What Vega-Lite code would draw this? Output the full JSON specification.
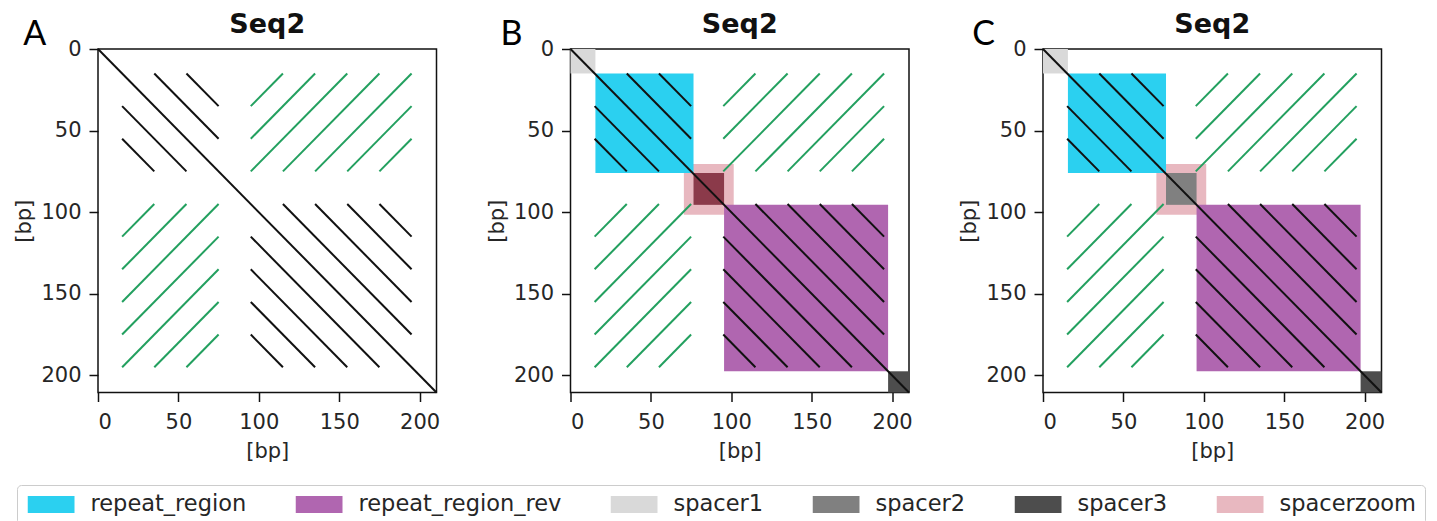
{
  "$schema": "https://vega.github.io/schema/vega-lite/v6.json",
  "background": "white",
  "padding": {"left": 13, "top": 10, "right": 7, "bottom": 0},
  "bounds": "flush",
  "spacing": 133.5,
  "datasets": {
    "segs": [
      {"s": "fwd", "x": 0, "y": 0, "x2": 210.5, "y2": 210.5},
      {"s": "fwd", "x": 35, "y": 15, "x2": 75, "y2": 55},
      {"s": "fwd", "x": 55, "y": 15, "x2": 75, "y2": 35},
      {"s": "fwd", "x": 15, "y": 35, "x2": 55, "y2": 75},
      {"s": "fwd", "x": 15, "y": 55, "x2": 35, "y2": 75},
      {"s": "fwd", "x": 115, "y": 95, "x2": 195, "y2": 175},
      {"s": "fwd", "x": 135, "y": 95, "x2": 195, "y2": 155},
      {"s": "fwd", "x": 155, "y": 95, "x2": 195, "y2": 135},
      {"s": "fwd", "x": 175, "y": 95, "x2": 195, "y2": 115},
      {"s": "fwd", "x": 95, "y": 115, "x2": 175, "y2": 195},
      {"s": "fwd", "x": 95, "y": 135, "x2": 155, "y2": 195},
      {"s": "fwd", "x": 95, "y": 155, "x2": 135, "y2": 195},
      {"s": "fwd", "x": 95, "y": 175, "x2": 115, "y2": 195},
      {"s": "rev", "x": 95, "y": 35, "x2": 115, "y2": 15},
      {"s": "rev", "x": 95, "y": 55, "x2": 135, "y2": 15},
      {"s": "rev", "x": 95, "y": 75, "x2": 155, "y2": 15},
      {"s": "rev", "x": 115, "y": 75, "x2": 175, "y2": 15},
      {"s": "rev", "x": 135, "y": 75, "x2": 195, "y2": 15},
      {"s": "rev", "x": 155, "y": 75, "x2": 195, "y2": 35},
      {"s": "rev", "x": 175, "y": 75, "x2": 195, "y2": 55},
      {"s": "rev", "x": 35, "y": 95, "x2": 15, "y2": 115},
      {"s": "rev", "x": 55, "y": 95, "x2": 15, "y2": 135},
      {"s": "rev", "x": 75, "y": 95, "x2": 15, "y2": 155},
      {"s": "rev", "x": 75, "y": 115, "x2": 15, "y2": 175},
      {"s": "rev", "x": 75, "y": 135, "x2": 15, "y2": 195},
      {"s": "rev", "x": 75, "y": 155, "x2": 35, "y2": 195},
      {"s": "rev", "x": 75, "y": 175, "x2": 55, "y2": 195}
    ],
    "regions": [
      {"region": "spacer1", "x": 0, "x2": 15.5, "y": 0, "y2": 15},
      {"region": "spacerzoom", "x": 70.5, "x2": 101.5, "y": 70.5, "y2": 101.5},
      {"region": "repeat_region", "x": 15.5, "x2": 76.5, "y": 15, "y2": 76},
      {"region": "repeat_region_rev", "x": 95.5, "x2": 197.5, "y": 95.5, "y2": 197.5},
      {"region": "spacer2", "x": 76.5, "x2": 95.5, "y": 76, "y2": 95.5},
      {"region": "spacer3", "x": 197.5, "x2": 210.5, "y": 197.5, "y2": 210.5}
    ]
  },
  "hconcat": [
    {
      "width": 338.5, "height": 343.5,
      "title": "Seq2",
      "encoding": {
        "x": {"field": "x", "type": "quantitative", "scale": {"domain": [0, 210.5], "nice": false, "zero": false}, "axis": {"values": [0, 50, 100, 150, 200], "title": "[bp]"}},
        "y": {"field": "y", "type": "quantitative", "scale": {"domain": [0, 210.5], "nice": false, "zero": false, "reverse": true}, "axis": {"values": [0, 50, 100, 150, 200], "title": "[bp]"}}
      },
      "layer": [
        {"data": {"name": "segs"}, "transform": [{"filter": "datum.s === 'fwd'"}], "mark": {"type": "rule", "color": "#111111", "strokeWidth": 2}, "encoding": {"x2": {"field": "x2"}, "y2": {"field": "y2"}}},
        {"data": {"name": "segs"}, "transform": [{"filter": "datum.s === 'rev'"}], "mark": {"type": "rule", "color": "#23A05F", "strokeWidth": 2}, "encoding": {"x2": {"field": "x2"}, "y2": {"field": "y2"}}},
        {"data": {"values": [{"label": "A", "x": -46.5, "y": -2.6}]}, "mark": {"type": "text", "align": "left", "baseline": "alphabetic", "font": "Lato", "fontSize": 34, "color": "#000"}, "encoding": {"text": {"field": "label"}}}
      ]
    },
    {
      "width": 338.5, "height": 343.5,
      "title": "Seq2",
      "encoding": {
        "x": {"field": "x", "type": "quantitative", "scale": {"domain": [0, 210.5], "nice": false, "zero": false}, "axis": {"values": [0, 50, 100, 150, 200], "title": "[bp]"}},
        "y": {"field": "y", "type": "quantitative", "scale": {"domain": [0, 210.5], "nice": false, "zero": false, "reverse": true}, "axis": {"values": [0, 50, 100, 150, 200], "title": "[bp]"}}
      },
      "layer": [
        {"data": {"name": "regions"}, "transform": [{"filter": "datum.region !== 'spacer2'"}], "mark": {"type": "rect"},
         "encoding": {"x2": {"field": "x2"}, "y2": {"field": "y2"},
           "color": {"field": "region", "type": "nominal",
             "scale": {"domain": ["repeat_region", "repeat_region_rev", "spacer1", "spacer2", "spacer3", "spacerzoom"], "range": ["#2BD0F0", "#B066B0", "#D9D9D9", "#808080", "#4D4D4D", "#E8B8C0"]},
             "legend": {"title": null, "orient": "none", "legendX": -81, "legendY": 436, "direction": "horizontal", "columns": 6, "symbolType": "M-1,-1H4.5V1H-1Z", "symbolSize": 289, "symbolStrokeWidth": 0, "labelOffset": 43, "columnPadding": 46, "padding": 8, "strokeColor": "#CCCCCC", "cornerRadius": 4, "fillColor": "white", "labelFont": "DejaVu Sans", "labelFontSize": 22.5, "labelColor": "#262626", "labelLimit": 400}}}},
        {"data": {"name": "regions"}, "transform": [{"filter": "datum.region === 'spacer2'"}], "mark": {"type": "rect", "color": "#8B3A4A"}, "encoding": {"x2": {"field": "x2"}, "y2": {"field": "y2"}}},
        {"data": {"name": "segs"}, "transform": [{"filter": "datum.s === 'fwd'"}], "mark": {"type": "rule", "color": "#111111", "strokeWidth": 2}, "encoding": {"x2": {"field": "x2"}, "y2": {"field": "y2"}}},
        {"data": {"name": "segs"}, "transform": [{"filter": "datum.s === 'rev'"}], "mark": {"type": "rule", "color": "#23A05F", "strokeWidth": 2}, "encoding": {"x2": {"field": "x2"}, "y2": {"field": "y2"}}},
        {"data": {"values": [{"label": "B", "x": -43.5, "y": -2.6}]}, "mark": {"type": "text", "align": "left", "baseline": "alphabetic", "font": "Lato", "fontSize": 34, "color": "#000"}, "encoding": {"text": {"field": "label"}}}
      ]
    },
    {
      "width": 338.5, "height": 343.5,
      "title": "Seq2",
      "encoding": {
        "x": {"field": "x", "type": "quantitative", "scale": {"domain": [0, 210.5], "nice": false, "zero": false}, "axis": {"values": [0, 50, 100, 150, 200], "title": "[bp]"}},
        "y": {"field": "y", "type": "quantitative", "scale": {"domain": [0, 210.5], "nice": false, "zero": false, "reverse": true}, "axis": {"values": [0, 50, 100, 150, 200], "title": "[bp]"}}
      },
      "layer": [
        {"data": {"name": "regions"}, "mark": {"type": "rect"},
         "encoding": {"x2": {"field": "x2"}, "y2": {"field": "y2"},
           "color": {"field": "region", "type": "nominal",
             "scale": {"domain": ["repeat_region", "repeat_region_rev", "spacer1", "spacer2", "spacer3", "spacerzoom"], "range": ["#2BD0F0", "#B066B0", "#D9D9D9", "#808080", "#4D4D4D", "#E8B8C0"]},
             "legend": {"title": null, "orient": "none", "legendX": -81, "legendY": 436, "direction": "horizontal", "columns": 6, "symbolType": "M-1,-1H4.5V1H-1Z", "symbolSize": 289, "symbolStrokeWidth": 0, "labelOffset": 43, "columnPadding": 46, "padding": 8, "strokeColor": "#CCCCCC", "cornerRadius": 4, "fillColor": "white", "labelFont": "DejaVu Sans", "labelFontSize": 22.5, "labelColor": "#262626", "labelLimit": 400}}}},
        {"data": {"name": "segs"}, "transform": [{"filter": "datum.s === 'fwd'"}], "mark": {"type": "rule", "color": "#111111", "strokeWidth": 2}, "encoding": {"x2": {"field": "x2"}, "y2": {"field": "y2"}}},
        {"data": {"name": "segs"}, "transform": [{"filter": "datum.s === 'rev'"}], "mark": {"type": "rule", "color": "#23A05F", "strokeWidth": 2}, "encoding": {"x2": {"field": "x2"}, "y2": {"field": "y2"}}},
        {"data": {"values": [{"label": "C", "x": -44, "y": -2.6}]}, "mark": {"type": "text", "align": "left", "baseline": "alphabetic", "font": "Lato", "fontSize": 34, "color": "#000"}, "encoding": {"text": {"field": "label"}}}
      ]
    }
  ],
  "resolve": {"scale": {"x": "independent", "y": "independent", "color": "shared"}, "legend": {"color": "shared"}},
  "config": {
    "font": "DejaVu Sans",
    "view": {"stroke": "#111111", "strokeWidth": 1.5},
    "title": {"font": "DejaVu Sans", "fontSize": 27, "fontWeight": "bold", "color": "#111111", "offset": -21},
    "axis": {"domain": false, "grid": false, "labelFont": "DejaVu Sans", "labelFontSize": 21, "labelColor": "#262626", "titleFont": "DejaVu Sans", "titleFontSize": 21, "titleFontWeight": "normal", "titleColor": "#262626", "tickColor": "#111111", "tickWidth": 1.5, "tickSize": 9},
    "axisY": {"titlePadding": 6, "labelPadding": 8},
    "axisX": {"titlePadding": 8, "labelPadding": 10}
  }
}
